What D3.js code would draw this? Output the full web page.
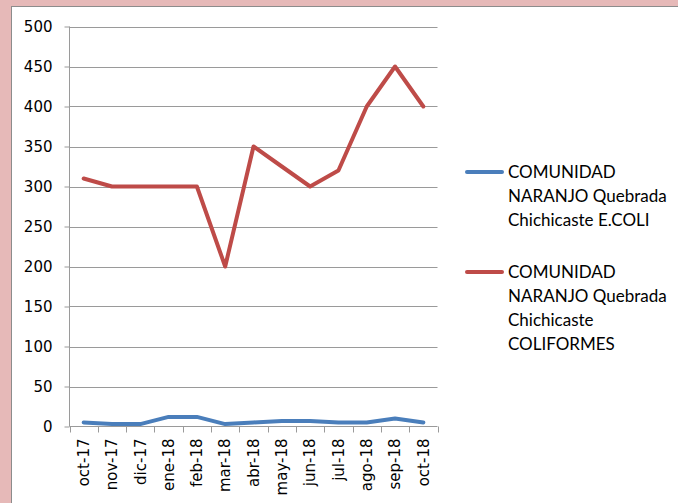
<!doctype html>
<html lang="es">
<head>
<meta charset="UTF-8">
<title>COMUNIDAD NARANJO Quebrada Chichicaste</title>
<script src="https://d3js.org/d3.v7.min.js"></script>
<style>
body { margin: 0; background-color: #e6b9b8; overflow: hidden; }
svg { display: block; }
.axis path, .axis line { stroke: #9a9a9a; }
.axis text { font-family: "DejaVu Sans", sans-serif; font-size: 15px; fill: #000; }
.legend text { font-family: "Lato", sans-serif; font-size: 17px; fill: #000; }
</style>
</head>
<body>
<div id="plot"></div>
<script>

var width = 678;
var height = 503;

var months = ["oct-17", "nov-17", "dic-17", "ene-18", "feb-18", "mar-18", "abr-18",
	"may-18", "jun-18", "jul-18", "ago-18", "sep-18", "oct-18"];
var ecoli = [5, 3, 3, 12, 12, 3, 5, 7, 7, 5, 5, 10, 5];
var coliformes = [310, 300, 300, 300, 300, 200, 350, 325, 300, 320, 400, 450, 400];
var yTicks = [0, 50, 100, 150, 200, 250, 300, 350, 400, 450, 500];
var seriesNames = [
	["COMUNIDAD", "NARANJO Quebrada", "Chichicaste E.COLI"],
	["COMUNIDAD", "NARANJO Quebrada", "Chichicaste", "COLIFORMES"]
];
var colors = ["#4a7ebb", "#be4b48"];

var svg = d3.select("#plot").append("svg")
	.attr("width", width)
	.attr("height", height);

// white panel
svg.append("rect")
	.attr("x", 11.5).attr("y", 6.5)
	.attr("width", width).attr("height", height)
	.style("fill", "#ffffff")
	.style("stroke", "#8c8c8c");

var plotLeft = 69.5, plotRight = 437.5, plotTop = 26.5, plotBottom = 426.5;

var xScale = d3.scaleBand().domain(months).range([plotLeft, plotRight]);
var yScale = d3.scaleLinear().domain([0, 500]).range([plotBottom, plotTop]);

// gridlines
svg.append("g").selectAll("line")
	.data(yTicks.slice(1))
	.enter().append("line")
	.attr("x1", plotLeft).attr("x2", plotRight)
	.attr("y1", function (d) { return Math.round(yScale(d)) + 0.5; })
	.attr("y2", function (d) { return Math.round(yScale(d)) + 0.5; })
	.style("stroke", "#9a9a9a");

var yAxis = d3.axisLeft(yScale).tickValues(yTicks).tickSize(5).tickPadding(12);
svg.append("g")
	.attr("class", "axis")
	.attr("transform", "translate(" + plotLeft + ",0)")
	.call(yAxis)
	.call(function (g) { g.select(".domain").attr("d", "M0," + plotTop + "V" + plotBottom); });

var xAxis = d3.axisBottom(xScale).tickSize(0).tickPadding(0);
var xg = svg.append("g")
	.attr("class", "axis")
	.attr("transform", "translate(0," + plotBottom + ")")
	.call(xAxis);
xg.select(".domain").attr("d", "M" + plotLeft + ",0H" + plotRight);
xg.selectAll(".tick text")
	.attr("transform", "rotate(-90)")
	.attr("text-anchor", "end")
	.attr("x", -12)
	.attr("y", 0)
	.attr("dy", "0.35em");
// boundary ticks
xg.selectAll("line.bound")
	.data(d3.range(months.length + 1))
	.enter().append("line")
	.attr("class", "bound")
	.attr("x1", function (i) { return Math.round(plotLeft + i * xScale.step()) + 0.5; })
	.attr("x2", function (i) { return Math.round(plotLeft + i * xScale.step()) + 0.5; })
	.attr("y1", 0).attr("y2", 6)
	.style("stroke", "#9a9a9a");

var line = d3.line()
	.x(function (d, i) { return xScale(months[i]) + xScale.bandwidth() / 2; })
	.y(function (d) { return yScale(d); });

[ecoli, coliformes].forEach(function (s, k) {
	svg.append("path")
		.datum(s)
		.attr("d", line)
		.style("fill", "none")
		.style("stroke", colors[k])
		.style("stroke-width", 4)
		.style("stroke-linejoin", "round")
		.style("stroke-linecap", "round");
});

// legend
var legendY = [172, 272];
var legend = svg.append("g").attr("class", "legend");
seriesNames.forEach(function (lines, k) {
	legend.append("line")
		.attr("x1", 467).attr("x2", 502)
		.attr("y1", legendY[k]).attr("y2", legendY[k])
		.style("stroke", colors[k])
		.style("stroke-width", 4)
		.style("stroke-linecap", "round");
	lines.forEach(function (t, j) {
		legend.append("text")
			.attr("x", 508)
			.attr("y", legendY[k] + j * 24)
			.attr("dy", "0.35em")
			.text(t);
	});
});

</script>
</body>
</html>
